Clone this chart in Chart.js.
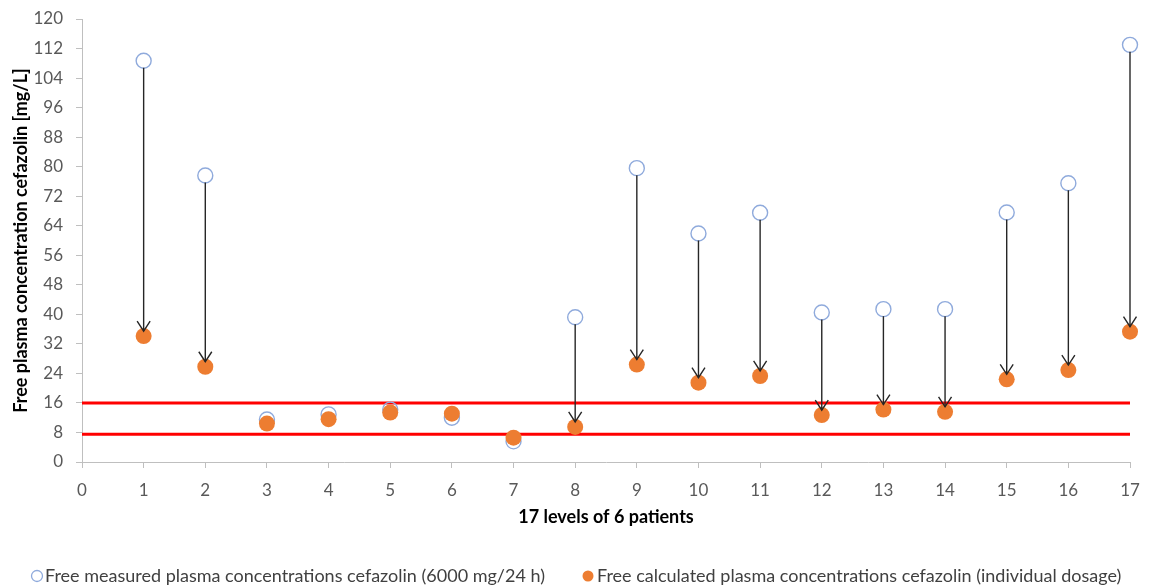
<!DOCTYPE html>
<html>
<head>
<meta charset="utf-8">
<script src="https://cdn.jsdelivr.net/npm/chart.js@4/dist/chart.umd.min.js"></script>
<style>
html,body{margin:0;padding:0;background:#fff;}
#wrap{width:1151px;height:585px;position:relative;}
</style>
</head>
<body>
<div id="wrap"><canvas id="c" width="1151" height="585"></canvas></div>
<script>
const levels = [1,2,3,4,5,6,7,8,9,10,11,12,13,14,15,16,17];
const measured = [108.7, 77.6, 11.5, 12.9, 14.2, 12.0, 5.6, 39.2, 79.6, 61.9, 67.5, 40.5, 41.4, 41.4, 67.6, 75.5, 113.0];
const calculated = [34.1, 25.8, 10.4, 11.6, 13.4, 13.1, 6.6, 9.5, 26.4, 21.5, 23.3, 12.7, 14.2, 13.6, 22.4, 24.9, 35.3];
const arrowLevels = [1,2,8,9,10,11,12,13,14,15,16,17];
const rangeLimits = [16, 7.5];
const xRange = [0, 17];
const yRange = [0, 120];
const yStep = 8;
const legendLabels = ["Free measured plasma concentrations cefazolin (6000 mg/24 h)", "Free calculated plasma concentrations cefazolin (individual dosage)"];
const xTitle = "17 levels of 6 patients";
const yTitle = "Free plasma concentration cefazolin [mg/L]";

const BLUE = '#8faadc';
const ORANGE = '#ed7d31';

const arrowPlugin = {
  id: 'arrows',
  afterDatasetsDraw(chart) {
    const ctx = chart.ctx, xs = chart.scales.x, ys = chart.scales.y;
    ctx.save();
    ctx.strokeStyle = '#262626';
    ctx.lineWidth = 1.4;
    arrowLevels.forEach(lv => {
      const i = levels.indexOf(lv);
      const x = xs.getPixelForValue(lv);
      const y1 = ys.getPixelForValue(measured[i]) + 7;
      const y2 = ys.getPixelForValue(calculated[i]) - 5;
      ctx.beginPath();
      ctx.moveTo(x, y1);
      ctx.lineTo(x, y2);
      ctx.stroke();
      ctx.beginPath();
      ctx.moveTo(x - 6.5, y2 - 10);
      ctx.lineTo(x, y2);
      ctx.lineTo(x + 6.5, y2 - 10);
      ctx.stroke();
    });
    ctx.restore();
  }
};

const legendPlugin = {
  id: 'customLegend',
  afterDraw(chart) {
    const ctx = chart.ctx;
    ctx.save();
    ctx.font = '18px Lato';
    ctx.fillStyle = '#404040';
    ctx.textBaseline = 'middle';
    const y = 576;
    ctx.beginPath();
    ctx.arc(37, y, 5.5, 0, Math.PI * 2);
    ctx.strokeStyle = BLUE; ctx.lineWidth = 1.3; ctx.stroke();
    ctx.fillText(legendLabels[0], 45, y);
    ctx.beginPath();
    ctx.arc(588, y, 5.5, 0, Math.PI * 2);
    ctx.fillStyle = ORANGE; ctx.fill();
    ctx.fillStyle = '#404040';
    ctx.fillText(legendLabels[1], 597, y);
    ctx.restore();
  }
};

const ctx = document.getElementById('c').getContext('2d');
new Chart(ctx, {
  type: 'scatter',
  data: {
    datasets: [
      {
        label: legendLabels[0],
        data: levels.map((l, i) => ({x: l, y: measured[i]})),
        pointStyle: 'circle',
        pointRadius: 7.5,
        pointBorderWidth: 1.4,
        pointBorderColor: BLUE,
        pointBackgroundColor: 'rgba(255,255,255,0)',
        clip: false,
        order: 1
      },
      {
        label: legendLabels[1],
        data: levels.map((l, i) => ({x: l, y: calculated[i]})),
        pointStyle: 'circle',
        pointRadius: 8,
        pointBorderWidth: 0,
        pointBackgroundColor: ORANGE,
        pointBorderColor: ORANGE,
        clip: false,
        order: 0
      },
      {
        type: 'line',
        label: 'upper',
        data: [{x: xRange[0], y: rangeLimits[0]}, {x: xRange[1], y: rangeLimits[0]}],
        borderColor: '#ff0000',
        borderWidth: 3,
        pointRadius: 0,
        order: 2
      },
      {
        type: 'line',
        label: 'lower',
        data: [{x: xRange[0], y: rangeLimits[1]}, {x: xRange[1], y: rangeLimits[1]}],
        borderColor: '#ff0000',
        borderWidth: 3,
        pointRadius: 0,
        order: 2
      }
    ]
  },
  options: {
    responsive: false,
    animation: false,
    layout: { autoPadding: false, padding: { left: 5, right: 21, top: 19, bottom: 50 } },
    plugins: {
      legend: { display: false },
      tooltip: { enabled: false }
    },
    scales: {
      x: {
        type: 'linear',
        min: xRange[0], max: xRange[1],
        afterFit(s) { s.height = 73; s.paddingLeft = 0; s.paddingRight = 0; },
        ticks: { stepSize: 1, color: '#595959', font: { family: 'Lato', size: 17 }, padding: 12.5 },
        grid: { display: true, drawOnChartArea: false, drawTicks: true, tickLength: 6, color: '#bfbfbf' },
        border: { display: true, color: '#bfbfbf', width: 1 },
        title: { display: true, text: xTitle, color: '#000', font: { family: 'Lato', size: 18, weight: 'bold' }, padding: { top: 4, bottom: 7 } }
      },
      y: {
        type: 'linear',
        min: yRange[0], max: yRange[1],
        afterFit(s) { s.width = 77; s.paddingTop = 0; s.paddingBottom = 0; },
        ticks: { stepSize: yStep, color: '#595959', font: { family: 'Lato', size: 17 }, padding: 13 },
        grid: { display: true, drawOnChartArea: false, drawTicks: true, tickLength: 6, color: '#bfbfbf' },
        border: { display: true, color: '#bfbfbf', width: 1 },
        title: { display: true, text: yTitle, color: '#000', font: { family: 'Lato', size: 18, weight: 'bold' }, padding: { top: 5, bottom: 3 } }
      }
    }
  },
  plugins: [arrowPlugin, legendPlugin]
});
</script>
</body>
</html>
